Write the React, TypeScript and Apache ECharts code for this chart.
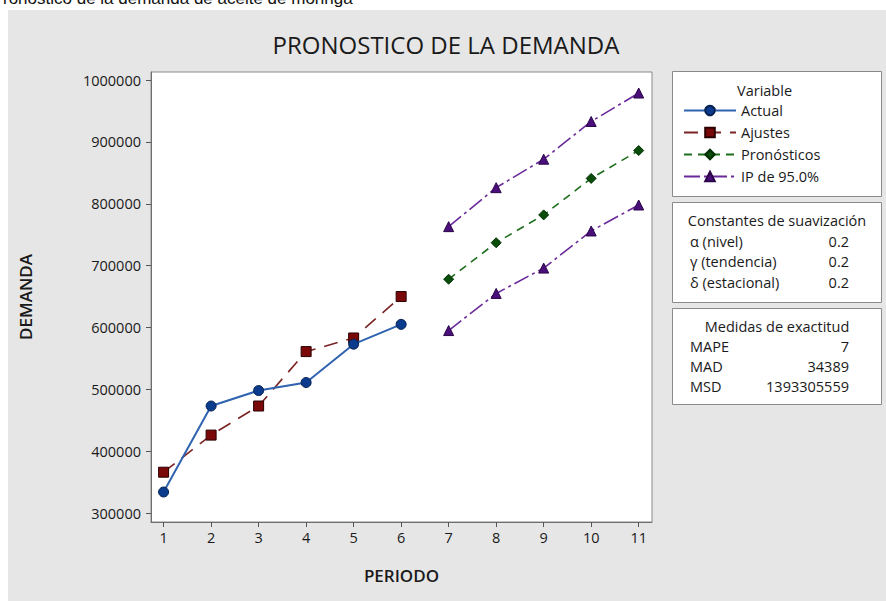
import React, { useEffect, useRef } from "react";
import * as echarts from "echarts";

const xTicks = [1, 2, 3, 4, 5, 6, 7, 8, 9, 10, 11];
const yTicks = [300000, 400000, 500000, 600000, 700000, 800000, 900000, 1000000];
const fitPeriods = [1, 2, 3, 4, 5, 6];
const actual = [334000, 473000, 498000, 511000, 573000, 605000];
const ajustes = [366000, 426000, 473000, 561000, 583000, 650000];
const forecastPeriods = [7, 8, 9, 10, 11];
const pronosticos = [678000, 737000, 782000, 841000, 886000];
const ipUpper = [763000, 826000, 872000, 933000, 979000];
const ipLower = [595000, 655000, 696000, 756000, 798000];
const smoothingLabels = ["α (nivel)", "γ (tendencia)", "δ (estacional)"];
const smoothingValues = ["0.2", "0.2", "0.2"];
const accuracyLabels = ["MAPE", "MAD", "MSD"];
const accuracyValues = ["7", "34389", "1393305559"];

const FONT = "'Open Sans', 'Noto Sans', sans-serif";
const TXT = "#1a1a1a";
const LF = 14.5;

const pairs = (xs: number[], ys: number[]) => xs.map((x, i) => [x, ys[i]]);

export default function App() {
  const ref = useRef<HTMLDivElement>(null);
  useEffect(() => {
    if (!ref.current) return;
    const chart = echarts.init(ref.current, undefined, { renderer: "svg" });

    const boxX = 672.5;
    const boxW = 209;
    const graphic: any[] = [
      { type: "rect", z: -100, shape: { x: 8, y: 10, width: 878, height: 591 }, style: { fill: "#e6e6e6" } },
      {
        type: "text", x: 3, y: -2,
        style: { text: "ronostico de la demanda de aceite de moringa", font: "17px 'Liberation Sans', Arial, sans-serif", fill: "#111", textVerticalAlign: "middle" },
      },
      {
        type: "text", x: 446, y: 44,
        style: { text: "PRONOSTICO DE LA DEMANDA", font: `24px ${FONT}`, fill: TXT, textAlign: "center", textVerticalAlign: "middle" },
      },
      { type: "rect", shape: { x: boxX, y: 71.5, width: boxW, height: 125 }, style: { fill: "#fff", stroke: "#8a8a8a", lineWidth: 1 } },
      {
        type: "text", x: 737, y: 90,
        style: { text: "Variable", font: `${LF}px ${FONT}`, fill: TXT, textVerticalAlign: "middle" },
      },
      { type: "rect", shape: { x: boxX, y: 202.5, width: boxW, height: 100 }, style: { fill: "#fff", stroke: "#8a8a8a", lineWidth: 1 } },
      {
        type: "text", x: boxX + boxW / 2, y: 220,
        style: { text: "Constantes de suavización", font: `${LF}px ${FONT}`, fill: TXT, textAlign: "center", textVerticalAlign: "middle" },
      },
      { type: "rect", shape: { x: boxX, y: 308.5, width: boxW, height: 96 }, style: { fill: "#fff", stroke: "#8a8a8a", lineWidth: 1 } },
      {
        type: "text", x: boxX + boxW / 2, y: 326,
        style: { text: "Medidas de exactitud", font: `${LF}px ${FONT}`, fill: TXT, textAlign: "center", textVerticalAlign: "middle" },
      },
    ];
    smoothingLabels.forEach((t, i) => {
      const y = 241 + i * 20.5;
      graphic.push({ type: "text", x: 690, y, style: { text: t, font: `${LF}px ${FONT}`, fill: TXT, textVerticalAlign: "middle" } });
      graphic.push({ type: "text", x: 849, y, style: { text: smoothingValues[i], font: `${LF}px ${FONT}`, fill: TXT, textAlign: "right", textVerticalAlign: "middle" } });
    });
    accuracyLabels.forEach((t, i) => {
      const y = 346 + i * 20;
      graphic.push({ type: "text", x: 690, y, style: { text: t, font: `${LF}px ${FONT}`, fill: TXT, textVerticalAlign: "middle" } });
      graphic.push({ type: "text", x: 849, y, style: { text: accuracyValues[i], font: `${LF}px ${FONT}`, fill: TXT, textAlign: "right", textVerticalAlign: "middle" } });
    });

    const option: any = {
      animation: false,
      backgroundColor: "#ffffff",
      textStyle: { fontFamily: FONT },
      graphic,
      grid: { left: 151, top: 72, right: 234, bottom: 79, show: true, backgroundColor: "#ffffff", borderColor: "#8a8a8a", borderWidth: 1 },
      legend: {
        data: ["Actual", "Ajustes", "Pronósticos", "IP de 95.0%"],
        orient: "vertical",
        left: 678,
        top: 98,
        itemWidth: 52,
        itemHeight: 12,
        itemGap: 7,
        selectedMode: false,
        textStyle: { fontFamily: FONT, fontSize: LF, color: TXT },
      },
      xAxis: {
        type: "value",
        min: 0.735,
        max: 11.28,
        name: "PERIODO",
        nameLocation: "middle",
        nameGap: 45,
        nameTextStyle: { fontFamily: FONT, fontSize: 17, fontWeight: 600, color: TXT },
        axisLine: { show: true, lineStyle: { color: "#6f6f6f", width: 1 } },
        axisTick: { show: true, length: 5, lineStyle: { color: "#555" }, customValues: xTicks },
        axisLabel: { customValues: xTicks, fontSize: 14.5, color: TXT, margin: 8, fontFamily: FONT },
        splitLine: { show: false },
      },
      yAxis: {
        type: "value",
        min: 285500,
        max: 1013000,
        name: "DEMANDA",
        nameLocation: "middle",
        nameRotate: 90,
        nameGap: 117,
        nameTextStyle: { fontFamily: FONT, fontSize: 17, fontWeight: 600, color: TXT },
        axisLine: { show: true, lineStyle: { color: "#6f6f6f", width: 1 } },
        axisTick: { show: true, length: 5, lineStyle: { color: "#555" }, customValues: yTicks },
        axisLabel: { customValues: yTicks, fontSize: 14.5, color: TXT, margin: 10, fontFamily: FONT, formatter: (v: number) => String(v) },
        splitLine: { show: false },
      },
      series: [
        {
          name: "Actual", type: "line", data: pairs(fitPeriods, actual),
          symbol: "circle", symbolSize: 10,
          lineStyle: { color: "#2f63b0", width: 2 },
          itemStyle: { color: "#0b3b8c", borderColor: "#05214f", borderWidth: 1 },
          z: 4,
        },
        {
          name: "Ajustes", type: "line", data: pairs(fitPeriods, ajustes),
          symbol: "rect", symbolSize: 10,
          lineStyle: { color: "#7a2424", width: 1.6, type: [14, 9] },
          itemStyle: { color: "#7a0808", borderColor: "#2a0000", borderWidth: 1 },
          z: 3,
        },
        {
          name: "Pronósticos", type: "line", data: pairs(forecastPeriods, pronosticos),
          symbol: "diamond", symbolSize: 10,
          lineStyle: { color: "#1f6e1f", width: 1.6, type: [8, 6] },
          itemStyle: { color: "#0a4d0a", borderColor: "#033003", borderWidth: 1 },
        },
        {
          name: "IP de 95.0%", type: "line", data: pairs(forecastPeriods, ipUpper),
          symbol: "triangle", symbolSize: 10,
          lineStyle: { color: "#6b2a9b", width: 1.6, type: [16, 4, 3, 4] },
          itemStyle: { color: "#4a0f7a", borderColor: "#2a0548", borderWidth: 1 },
        },
        {
          name: "IP de 95.0%", type: "line", data: pairs(forecastPeriods, ipLower),
          symbol: "triangle", symbolSize: 10,
          lineStyle: { color: "#6b2a9b", width: 1.6, type: [16, 4, 3, 4] },
          itemStyle: { color: "#4a0f7a", borderColor: "#2a0548", borderWidth: 1 },
        },
      ],
    };
    chart.setOption(option);
    return () => chart.dispose();
  }, []);
  return (
    <div style={{ position: "absolute", left: 0, top: 0, width: 886, height: 601 }}>
      <div ref={ref} style={{ width: 886, height: 601 }} />
    </div>
  );
}
